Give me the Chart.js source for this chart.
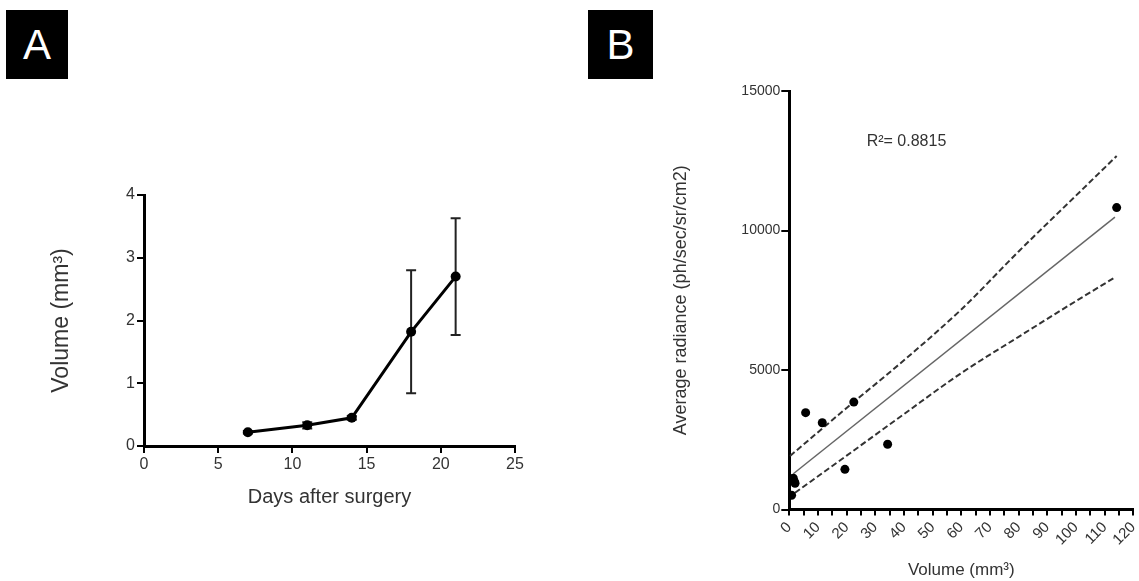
<!DOCTYPE html>
<html><head><meta charset="utf-8">
<script src="https://cdn.jsdelivr.net/npm/chart.js@4.4.1/dist/chart.umd.min.js"></script>
<style>
html,body{margin:0;padding:0;background:#fff;width:1139px;height:581px;overflow:hidden;}
.tag{position:absolute;background:#000;color:#fff;font-family:"Liberation Sans",Arial,sans-serif;font-size:42px;display:flex;align-items:center;justify-content:center;}
#wrapA{position:absolute;left:0;top:150px;width:560px;height:370px;}
#wrapB{position:absolute;left:560px;top:60px;width:579px;height:521px;}
</style></head><body>
<div class="tag" style="left:6px;top:10px;width:62px;height:69px">A</div>
<div class="tag" style="left:588px;top:10px;width:65px;height:69px">B</div>
<div id="wrapA"><canvas id="cA"></canvas></div>
<div id="wrapB"><canvas id="cB"></canvas></div>
<script>
// ---- Panel A data ----
const days = [7, 11, 14, 18, 21];
const volumeMean = [0.22, 0.33, 0.45, 1.82, 2.70];
const volumeErr = [0.02, 0.05, 0.03, 0.98, 0.93];
const xTicksA = [0, 5, 10, 15, 20, 25];
const yTicksA = [0, 1, 2, 3, 4];

// ---- Panel B data ----
const tumorVolume = [0.8, 1.4, 2.0, 1.8, 5.7, 11.5, 19.4, 22.5, 34.3, 114.2];
const radiance = [510, 1120, 940, 1000, 3470, 3110, 1440, 3850, 2340, 10820];
const fitX = [1.4, 113.6];
const fitY = [1280, 10480];
const upperX = [0.25, 20, 40, 60, 80, 100, 114.2];
const upperY = [1918, 3640, 5350, 7170, 9250, 11250, 12670];
const lowerX = [2, 20, 40, 60, 80, 100, 113.6];
const lowerY = [600, 1930, 3420, 4890, 6190, 7470, 8320];
const yTicksB = [0, 5000, 10000, 15000];
const rSquaredLabel = 'R\u00B2= 0.8815';

const FAM = '"Liberation Sans", Arial, Helvetica, sans-serif';
const pts = (xs, ys) => xs.map((x, i) => ({x: x, y: ys[i]}));

Chart.defaults.animation = false;
Chart.defaults.font.family = FAM;

const errorBars = {
  id: 'errorBars',
  beforeDatasetsDraw(chart) {
    const {ctx, scales: {x, y}} = chart;
    ctx.save();
    ctx.strokeStyle = '#222';
    ctx.lineWidth = 2;
    days.forEach((d, i) => {
      const px = x.getPixelForValue(d);
      const top = y.getPixelForValue(volumeMean[i] + volumeErr[i]);
      const bot = y.getPixelForValue(volumeMean[i] - volumeErr[i]);
      ctx.beginPath();
      ctx.moveTo(px, top); ctx.lineTo(px, bot);
      ctx.moveTo(px - 5, top); ctx.lineTo(px + 5, top);
      ctx.moveTo(px - 5, bot); ctx.lineTo(px + 5, bot);
      ctx.stroke();
    });
    ctx.restore();
  }
};

new Chart(document.getElementById('cA'), {
  type: 'scatter',
  data: {
    datasets: [{
      data: pts(days, volumeMean),
      showLine: true,
      borderColor: '#000',
      backgroundColor: '#000',
      borderWidth: 3,
      pointRadius: 5,
      pointBorderWidth: 0
    }]
  },
  options: {
    responsive: true,
    maintainAspectRatio: false,
    layout: {padding: {left: 40, top: 45, right: 45, bottom: 0}},
    plugins: {legend: {display: false}, tooltip: {enabled: false}},
    scales: {
      x: {
        type: 'linear', min: 0, max: 25,
        afterBuildTicks: s => { s.ticks = xTicksA.map(v => ({value: v})); },
        afterFit: s => { s.height = 74; },
        border: {display: true, color: '#000', width: 3},
        grid: {drawOnChartArea: false, drawTicks: true, tickLength: 7, color: '#000', lineWidth: 2},
        ticks: {color: '#333', font: {size: 16}, padding: 2, maxRotation: 0},
        title: {display: true, text: 'Days after surgery', color: '#333', font: {size: 20}, padding: {top: 0, bottom: 11}}
      },
      y: {
        type: 'linear', min: 0, max: 4,
        afterBuildTicks: s => { s.ticks = yTicksA.map(v => ({value: v})); },
        afterFit: s => { s.width = 104; },
        border: {display: true, color: '#000', width: 3},
        grid: {drawOnChartArea: false, drawTicks: true, tickLength: 7, color: '#000', lineWidth: 2},
        ticks: {color: '#333', font: {size: 16}, padding: 2},
        title: {display: true, text: 'Volume (mm\u00B3)', color: '#333', font: {size: 23}, padding: {top: 8, bottom: 0}}
      }
    }
  },
  plugins: [errorBars]
});

const r2Label = {
  id: 'r2Label',
  afterDraw(chart) {
    const {ctx, scales: {x, y}} = chart;
    ctx.save();
    ctx.fillStyle = '#333';
    ctx.font = '16px ' + FAM;
    ctx.textAlign = 'left';
    ctx.textBaseline = 'middle';
    ctx.fillText(rSquaredLabel, x.getPixelForValue(27), y.getPixelForValue(13170));
    ctx.restore();
  }
};

new Chart(document.getElementById('cB'), {
  type: 'scatter',
  data: {
    datasets: [
      {data: pts(tumorVolume, radiance), backgroundColor: '#000', borderColor: '#000', pointRadius: 4.5, pointBorderWidth: 0},
      {data: pts(fitX, fitY), showLine: true, borderColor: '#666', borderWidth: 1.5, pointRadius: 0},
      {data: pts(upperX, upperY), showLine: true, cubicInterpolationMode: 'monotone', borderColor: '#333', borderWidth: 2, borderDash: [6, 3], pointRadius: 0},
      {data: pts(lowerX, lowerY), showLine: true, cubicInterpolationMode: 'monotone', borderColor: '#333', borderWidth: 2, borderDash: [6, 3], pointRadius: 0}
    ]
  },
  options: {
    responsive: true,
    maintainAspectRatio: false,
    layout: {padding: {left: 100, top: 31, right: 5.7, bottom: 0}},
    plugins: {legend: {display: false}, tooltip: {enabled: false}},
    scales: {
      x: {
        type: 'linear', min: 0, max: 120,
        afterFit: s => { s.height = 71.5; s.paddingRight = 0; },
        border: {display: true, color: '#000', width: 3},
        grid: {drawOnChartArea: false, drawTicks: true, tickLength: 6, color: '#000', lineWidth: 2},
        ticks: {stepSize: 5, autoSkip: false, minRotation: 45, maxRotation: 45, color: '#333', font: {size: 15}, padding: 3,
          callback: v => (v % 10 === 0 ? String(v) : '')},
        title: {display: true, text: 'Volume (mm\u00B3)', color: '#333', font: {size: 17}, padding: {top: 0, bottom: 0}}
      },
      y: {
        type: 'linear', min: 0, max: 15000,
        afterBuildTicks: s => { s.ticks = yTicksB.map(v => ({value: v})); },
        afterFit: s => { s.width = 129.3; },
        border: {display: true, color: '#000', width: 3},
        grid: {drawOnChartArea: false, drawTicks: true, tickLength: 8, color: '#000', lineWidth: 2},
        ticks: {color: '#333', font: {size: 14}, padding: 1, callback: v => String(v)},
        title: {display: true, text: 'Average radiance (ph/sec/sr/cm2)', color: '#333', font: {size: 18}, padding: {top: 10, bottom: 0}}
      }
    }
  },
  plugins: [r2Label]
});
</script>
</body></html>
